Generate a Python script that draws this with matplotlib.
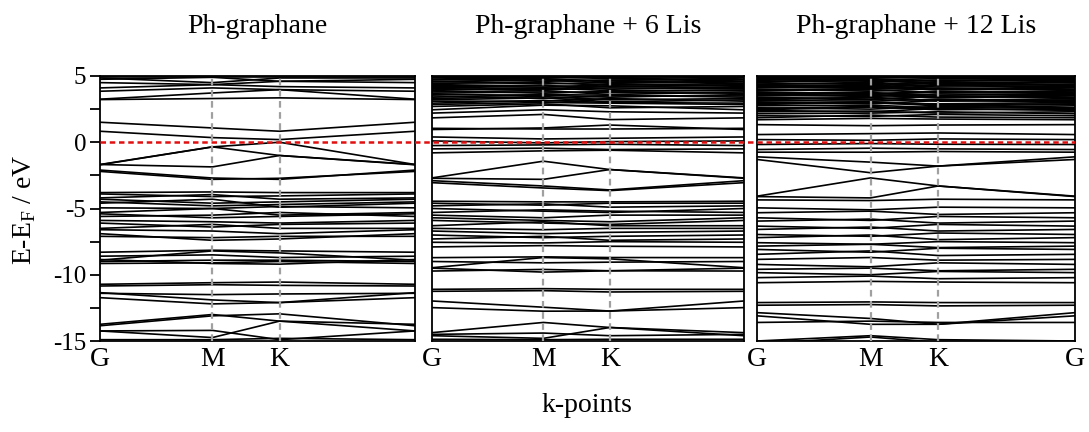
import matplotlib
matplotlib.use("Agg")
import matplotlib.pyplot as plt
from matplotlib.lines import Line2D
from matplotlib.transforms import blended_transform_factory

plt.rcParams['font.family'] = ['Liberation Serif', 'DejaVu Serif']
plt.rcParams['mathtext.fontset'] = 'custom'
plt.rcParams['mathtext.rm'] = 'Liberation Serif'

# ---------------- data ----------------
panel_titles = ["Ph-graphane", "Ph-graphane + 6 Lis", "Ph-graphane + 12 Lis"]
kpath_labels = ["G", "M", "K", "G"]
kpath_pos = [0.0, 0.357, 0.570, 1.0]

# Panel 1: band energies (eV) at G, M, K
p1_G = [4.95, 4.75, 4.5, 4.1, 3.85, 3.25, 3.22, 4.85,
        1.51, 0.83, -1.68, -1.70, -1.68, -2.1, -2.2,
        -3.8, -3.9, -4.2, -4.3, -4.5, -4.6, -4.95, -5.3, -5.4, -5.6, -5.9, -6.1, -6.5, -6.6, -6.9, -7.1,
        -8.3, -8.9, -9.0, -9.15, -8.85, -8.6,
        -10.72, -10.85, -11.35, -11.73, -11.4,
        -13.74, -14.24, -13.85, -14.9, -14.24]
p1_M = [4.95, 4.9, 4.35, 4.35, 4.1, 3.72, 3.3, 4.5,
        1.08, 0.35, -0.35, -0.35, -1.86, -2.7, -2.8,
        -3.75, -4.1, -3.95, -4.6, -4.8, -4.3, -5.0, -5.0, -5.7, -5.5, -6.0, -6.4, -6.2, -6.7, -7.4, -7.2,
        -8.15, -8.2, -8.9, -9.1, -9.15, -8.5,
        -10.6, -10.75, -11.9, -12.2, -11.5,
        -13.0, -14.74, -13.1, -14.9, -14.2]
p1_K = [4.95, 4.6, 4.6, 4.2, 3.97, 3.97, 3.35, 4.85,
        0.83, 0.2, 0.0, -1.0, -1.0, -2.8, -2.72,
        -3.8, -4.05, -4.3, -4.5, -4.7, -4.9, -4.85, -5.5, -5.6, -5.3, -6.1, -6.2, -6.5, -6.9, -7.3, -7.1,
        -8.2, -8.35, -8.9, -9.0, -9.2, -8.7,
        -10.55, -10.8, -12.1, -12.1, -11.45,
        -13.5, -13.5, -12.95, -14.8, -14.9]

# Panel 2: + 6 Lis
p2_G = [4.95, 4.85, 4.7, 4.6, 4.45, 4.3, 4.2, 4.05, 3.9, 3.8, 3.6, 3.5, 3.3, 3.1, 2.85, 2.7, 2.45,
        4.98, 4.9, 4.75, 4.55, 4.35, 4.15, 3.95, 3.7, 3.4, 3.2, 2.95,
        2.2, 1.84, 0.96, 1.05,
        0.4, 0.1, -0.25, -0.5, -0.8,
        -2.69, -2.72, -2.9, -3.05,
        -4.45, -4.6, -4.8, -5.0, -5.3, -5.5, -5.7, -5.9, -6.3, -6.5, -6.7, -7.0, -7.3, -7.55, -7.9,
        -8.71, -9.47, -9.72, -9.0, -9.5,
        -11.1, -11.25, -11.98, -12.48,
        -14.37, -14.6, -14.87, -14.5]
p2_M = [4.9, 4.75, 4.8, 4.4, 4.5, 4.15, 4.3, 3.95, 3.7, 3.9, 3.55, 3.3, 3.45, 3.1, 3.0, 2.9, 2.8,
        4.85, 4.95, 4.6, 4.7, 4.25, 4.05, 4.1, 3.8, 3.6, 3.35, 3.15,
        2.45, 2.1, 1.08, 1.0,
        0.25, -0.05, -0.2, -0.45, -0.65,
        -1.43, -2.8, -3.3, -3.45,
        -4.5, -4.75, -4.65, -5.2, -5.1, -5.7, -5.9, -6.1, -6.0, -6.6, -6.9, -7.2, -7.1, -7.6, -7.8,
        -8.65, -8.7, -9.6, -9.1, -9.8,
        -11.05, -11.2, -12.45, -12.75,
        -13.6, -14.8, -14.9, -14.4]
p2_K = [4.95, 4.65, 4.55, 4.5, 4.3, 4.35, 4.0, 4.1, 3.85, 3.6, 3.4, 3.5, 3.2, 3.3, 2.95, 2.6, 2.75,
        4.9, 4.8, 4.7, 4.45, 4.2, 4.2, 3.9, 3.75, 3.55, 3.05, 3.0,
        2.3, 1.71, 1.3, 1.0,
        0.3, 0.05, -0.15, -0.55, -0.6,
        -2.06, -2.06, -3.6, -3.65,
        -4.5, -4.6, -4.9, -5.3, -5.2, -5.5, -6.0, -6.2, -6.3, -6.5, -6.8, -7.1, -7.4, -7.5, -7.85,
        -8.7, -8.8, -9.7, -9.05, -9.7,
        -11.1, -11.3, -12.74, -12.74,
        -13.98, -13.98, -14.87, -14.6]

# Panel 3: + 12 Lis
p3_G = [5.0, 4.9, 4.85, 4.75, 4.65, 4.6, 4.5, 4.4, 4.3, 4.2, 4.1, 4.0, 3.9, 3.8, 3.7, 3.6, 3.5, 3.4,
        3.3, 3.15, 3.0, 2.9, 2.75, 2.6, 2.45, 2.3, 2.15, 2.0, 1.85, 1.7,
        4.95, 4.8, 4.55, 4.35, 4.15, 3.95, 3.75, 3.55, 3.35, 3.2, 3.05, 2.85, 2.55, 2.4,
        1.33, 0.58, 0.2, -0.17, -0.55, -0.75, -1.1, -1.3,
        -4.07, -4.1, -4.35,
        -4.95, -5.32, -5.7, -5.95, -6.33, -6.58, -6.96, -7.2, -7.58, -7.84, -8.09, -8.46,
        -8.84, -9.22, -9.59, -9.84, -10.22, -10.6,
        -12.1, -12.3, -12.86, -13.1, -13.6,
        -15.0, -15.2]
p3_M = [4.95, 4.85, 4.7, 4.8, 4.5, 4.65, 4.35, 4.45, 4.2, 4.05, 4.15, 3.85, 3.95, 3.65, 3.75, 3.45, 3.55, 3.25,
        3.35, 3.1, 2.95, 3.05, 2.8, 2.5, 2.65, 2.35, 2.2, 1.95, 2.05, 1.8,
        4.9, 4.6, 4.75, 4.25, 4.3, 4.0, 3.6, 3.7, 3.2, 3.4, 2.9, 3.0, 2.7, 2.3,
        1.25, 0.65, 0.15, -0.1, -0.45, -0.75, -1.5, -2.3,
        -2.69, -4.2, -4.4,
        -5.1, -5.2, -5.9, -5.8, -6.5, -6.4, -7.1, -7.0, -7.7, -7.7, -8.3, -8.2,
        -8.7, -9.4, -9.5, -10.0, -10.1, -10.5,
        -12.05, -12.25, -13.3, -13.74, -13.5,
        -14.6, -14.7]
p3_K = [4.9, 4.95, 4.8, 4.6, 4.7, 4.45, 4.55, 4.25, 4.35, 4.25, 3.95, 4.05, 3.75, 3.85, 3.55, 3.65, 3.35, 3.45,
        3.15, 3.25, 2.9, 2.85, 2.6, 2.7, 2.5, 2.2, 2.3, 2.1, 1.9, 1.75,
        4.85, 4.65, 4.4, 4.5, 4.05, 4.1, 3.8, 3.45, 3.5, 3.1, 3.15, 2.75, 2.45, 2.55,
        1.3, 0.7, 0.25, -0.15, -0.5, -0.7, -1.8, -1.8,
        -3.3, -3.3, -4.3,
        -4.9, -5.45, -5.6, -6.1, -6.2, -6.7, -6.85, -7.35, -7.5, -7.95, -8.0, -8.55,
        -8.9, -9.1, -9.7, -9.75, -10.3, -10.55,
        -12.1, -12.35, -13.74, -13.74, -13.6,
        -14.9, -15.1]

panels = [(p1_G, p1_M, p1_K), (p2_G, p2_M, p2_K), (p3_G, p3_M, p3_K)]

# ---------------- figure ----------------
W, H = 1089, 432
fig = plt.figure(figsize=(W / 100, H / 100), dpi=100)

ax_px = [(100, 415), (432, 744), (757, 1075)]
top_px, bot_px = 76, 341
axes = []
for (l, r) in ax_px:
    ax = fig.add_axes([l / W, 1 - bot_px / H, (r - l) / W, (bot_px - top_px) / H])
    axes.append(ax)

for i, (ax, (G, M, K)) in enumerate(zip(axes, panels)):
    for g, m, k in zip(G, M, K):
        ax.plot(kpath_pos, [g, m, k, g], color='black', lw=1.2, solid_capstyle='butt')
    for xv in kpath_pos[1:3]:
        ax.axvline(xv, color='#a0a0a0', lw=1.6, ls=(0, (3, 2)), zorder=3)
    ax.set_xlim(0, 1)
    ax.set_ylim(-15, 5)
    for s in ax.spines.values():
        s.set_linewidth(1.3)
    if i < 2:
        ax.set_xticks(kpath_pos[:3])
        ax.set_xticklabels(kpath_labels[:3])
    else:
        ax.set_xticks(kpath_pos)
        ax.set_xticklabels(kpath_labels)
    ax.tick_params(axis='x', length=0, pad=4, labelsize=20)
    if i == 0:
        ax.set_yticks([5, 0, -5, -10, -15])
        ax.set_yticks([2.5, -2.5, -7.5, -12.5], minor=True)
        ax.set_yticklabels(['5', '0', '-5', '-10', '-15'])
        ax.tick_params(axis='y', which='both', direction='out', length=7, width=1.3,
                       pad=3, labelsize=18)
    else:
        ax.set_yticks([])
    cx = (ax_px[i][0] + ax_px[i][1]) / 2 / W
    fig.text(cx, 1 - 33 / H, panel_titles[i], ha='center', va='baseline', fontsize=20)

# Fermi level line across all panels
tr = blended_transform_factory(fig.transFigure, axes[0].transData)
fig.add_artist(Line2D([ax_px[0][0] / W, ax_px[2][1] / W], [0, 0], transform=tr,
                      color='#e01010', lw=1.8, ls=(0, (2.2, 1.5)), zorder=5))

fig.text(25 / W, 1 - 210 / H, r'E-E$_\mathrm{F}$ / eV', rotation=90, ha='center', va='center', fontsize=20)
fig.text(587 / W, 1 - 405 / H, 'k-points', ha='center', va='center', fontsize=20)

fig.savefig('out.png', dpi=100)
